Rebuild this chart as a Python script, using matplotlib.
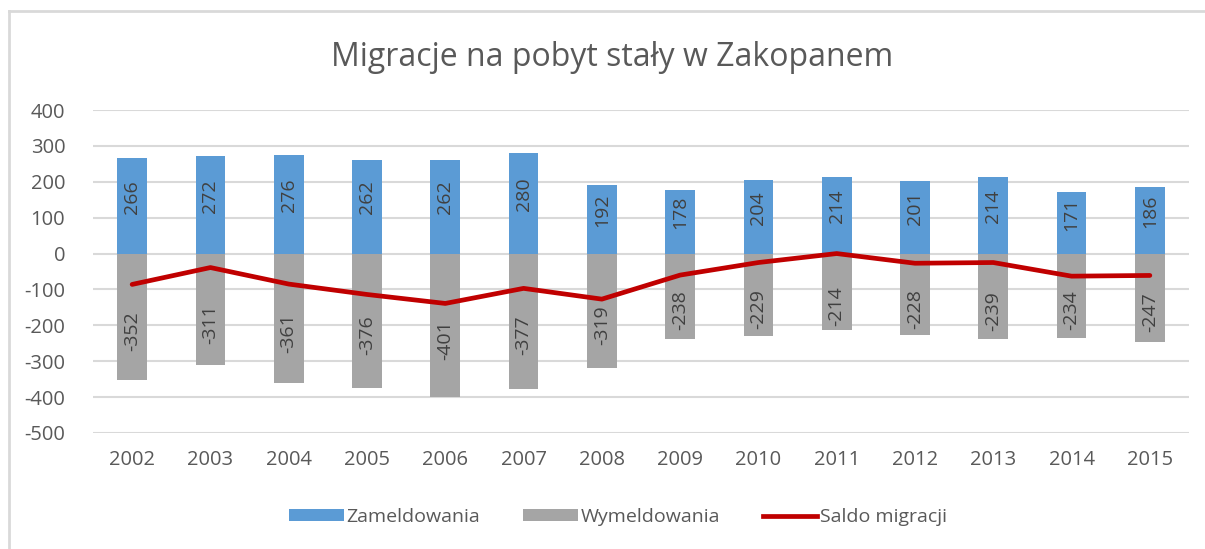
import numpy as np
import matplotlib
matplotlib.use("Agg")
import matplotlib.pyplot as plt
from matplotlib.lines import Line2D
from matplotlib.patches import Patch

years = [2002, 2003, 2004, 2005, 2006, 2007, 2008,
         2009, 2010, 2011, 2012, 2013, 2014, 2015]
zameldowania = [266, 272, 276, 262, 262, 280, 192, 178, 204, 214, 201, 214, 171, 186]
wymeldowania = [-352, -311, -361, -376, -401, -377, -319, -238, -229, -214, -228, -239, -234, -247]
saldo = [-86, -39, -85, -114, -139, -97, -127, -60, -25, 0, -27, -25, -63, -61]
yticks = [400, 300, 200, 100, 0, -100, -200, -300, -400, -500]

BLUE = "#5b9bd5"
GREY = "#a5a5a5"
RED = "#c00000"
TXT = "#595959"
GRID = "#d9d9d9"

plt.rcParams["font.family"] = ["Open Sans", "DejaVu Sans"]

fig = plt.figure(figsize=(12.05, 5.49), dpi=100)
ax = fig.add_axes([93 / 1205, 1 - 433 / 549, (1189 - 93) / 1205, (433 - 110) / 549])

x = np.arange(len(years))
w = 0.38
ax.bar(x, zameldowania, width=w, color=BLUE, zorder=2)
ax.bar(x, wymeldowania, width=w, color=GREY, zorder=2)
ax.plot(x, saldo, color=RED, linewidth=3.4, zorder=4, solid_capstyle="round")

for xi, v in zip(x, zameldowania):
    ax.text(xi, v / 2 + 25, str(v), rotation=90, ha="center", va="center",
            fontsize=14, color="#404040", zorder=3)
for xi, v in zip(x, wymeldowania):
    ax.text(xi, v / 2 - 40, str(v), rotation=90, ha="center", va="center",
            fontsize=14, color="#404040", zorder=3)

ax.set_xlim(-0.5, len(years) - 0.5)
ax.set_ylim(-500, 400)
ax.set_yticks(yticks)
ax.set_yticklabels([str(t) for t in yticks])
ax.set_xticks(x)
ax.set_xticklabels([str(y) for y in years])
ax.tick_params(axis="both", length=0, labelsize=14.5, colors=TXT)
ax.tick_params(axis="x", pad=12)
ax.tick_params(axis="y", pad=20)
ax.grid(axis="y", color=GRID, linewidth=1.5, zorder=0)
ax.set_axisbelow(True)
for s in ax.spines.values():
    s.set_visible(False)

fig.text(0.508, 1 - 57 / 549, "Migracje na pobyt stały w Zakopanem",
         ha="center", va="center", fontsize=23, color=TXT)

handles = [Patch(facecolor=BLUE, label="Zameldowania"),
           Patch(facecolor=GREY, label="Wymeldowania"),
           Line2D([0], [0], color=RED, linewidth=3.4, label="Saldo migracji")]
fig.legend(handles=handles, loc="center", bbox_to_anchor=(0.513, 1 - 517 / 549),
           ncol=3, frameon=False, fontsize=14, labelcolor=TXT,
           handlelength=2.8, handleheight=0.55, handletextpad=0.15, columnspacing=2.2)

# chart frame
fig.add_artist(Line2D([9 / 1205, 9 / 1205], [0, 1 - 11 / 549], color=GRID, linewidth=2,
                      transform=fig.transFigure))
fig.add_artist(Line2D([9 / 1205, 1], [1 - 11 / 549, 1 - 11 / 549], color=GRID, linewidth=2,
                      transform=fig.transFigure))

fig.savefig("out.png", dpi=100)
